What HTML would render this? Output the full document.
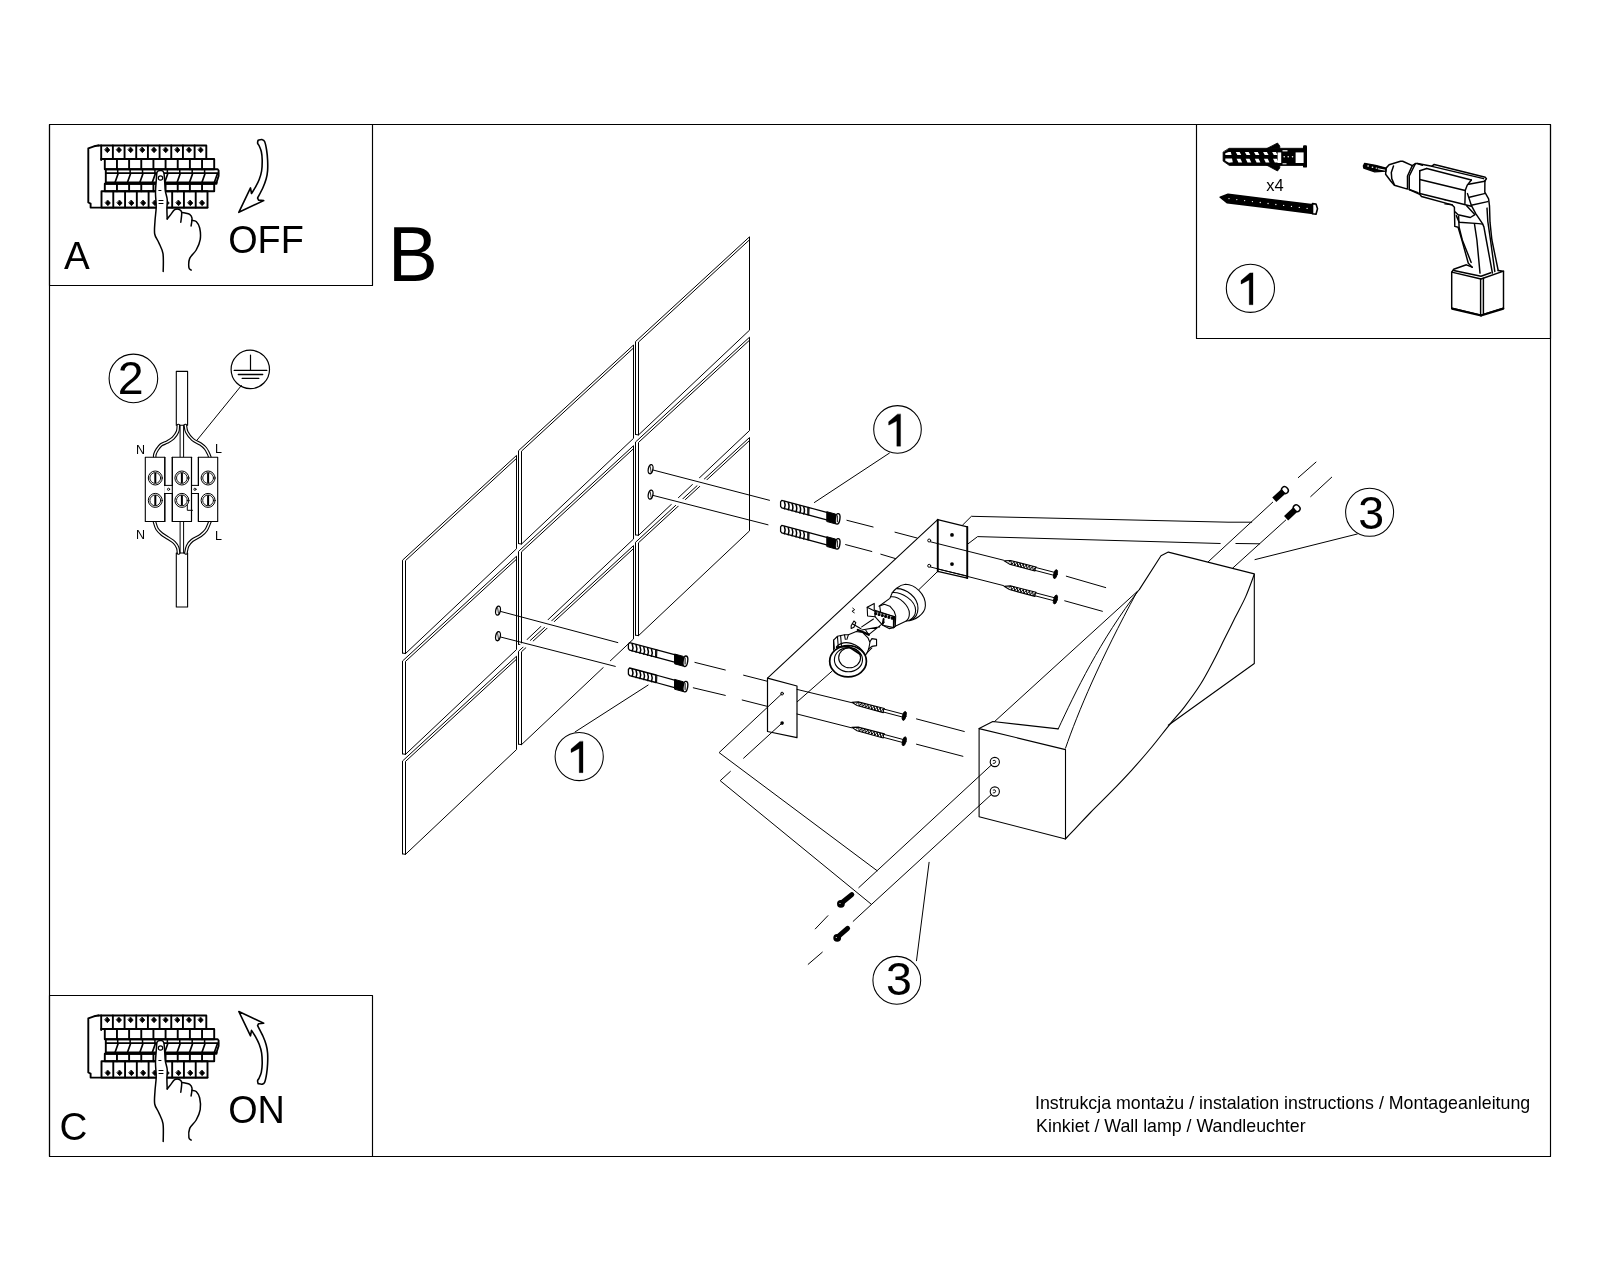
<!DOCTYPE html>
<html><head><meta charset="utf-8"><title>Instrukcja montażu</title>
<style>html,body{margin:0;padding:0;background:#fff;} svg{display:block;will-change:transform;}</style></head>
<body>
<svg width="1600" height="1280" viewBox="0 0 1600 1280" font-family="'Liberation Sans', sans-serif" stroke-linecap="round" stroke-linejoin="round">
<rect width="1600" height="1280" fill="#fff"/>
<rect x="49.5" y="124.5" width="1501" height="1032" fill="none" stroke="#000" stroke-width="1.15"/>
<rect x="49.5" y="124.5" width="323" height="161" fill="none" stroke="#000" stroke-width="1.15"/>
<rect x="49.5" y="995.5" width="323" height="161" fill="none" stroke="#000" stroke-width="1.15"/>
<rect x="1196.5" y="124.5" width="354" height="214" fill="none" stroke="#000" stroke-width="1.15"/>
<polyline points="98.3,145.5 94,146.3 88.3,148.3 88.3,202.5 90.6,203.6 90.6,207.6 207.5,207.6" fill="none" stroke="#000" stroke-width="1.9"/>
<polyline points="101.2,159 206.3,159 206.3,145.5 98.3,145.5" fill="none" stroke="#000" stroke-width="1.9"/>
<line x1="101.2" y1="145.5" x2="101.2" y2="160" stroke="#000" stroke-width="1.9"/>
<line x1="112.88" y1="145.5" x2="112.88" y2="159" stroke="#000" stroke-width="1.9"/>
<line x1="124.56" y1="145.5" x2="124.56" y2="159" stroke="#000" stroke-width="1.9"/>
<line x1="136.23" y1="145.5" x2="136.23" y2="159" stroke="#000" stroke-width="1.9"/>
<line x1="147.91" y1="145.5" x2="147.91" y2="159" stroke="#000" stroke-width="1.9"/>
<line x1="159.59" y1="145.5" x2="159.59" y2="159" stroke="#000" stroke-width="1.9"/>
<line x1="171.27" y1="145.5" x2="171.27" y2="159" stroke="#000" stroke-width="1.9"/>
<line x1="182.94" y1="145.5" x2="182.94" y2="159" stroke="#000" stroke-width="1.9"/>
<line x1="194.62" y1="145.5" x2="194.62" y2="159" stroke="#000" stroke-width="1.9"/>
<polygon points="107.34,147.3 109.84,150 107.34,152.7 104.84,150" fill="#000" stroke="#000" stroke-width="0.8"/>
<polygon points="119.02,147.3 121.52,150 119.02,152.7 116.52,150" fill="#000" stroke="#000" stroke-width="0.8"/>
<polygon points="130.69,147.3 133.19,150 130.69,152.7 128.19,150" fill="#000" stroke="#000" stroke-width="0.8"/>
<polygon points="142.37,147.3 144.87,150 142.37,152.7 139.87,150" fill="#000" stroke="#000" stroke-width="0.8"/>
<polygon points="154.05,147.3 156.55,150 154.05,152.7 151.55,150" fill="#000" stroke="#000" stroke-width="0.8"/>
<polygon points="165.73,147.3 168.23,150 165.73,152.7 163.23,150" fill="#000" stroke="#000" stroke-width="0.8"/>
<polygon points="177.41,147.3 179.91,150 177.41,152.7 174.91,150" fill="#000" stroke="#000" stroke-width="0.8"/>
<polygon points="189.08,147.3 191.58,150 189.08,152.7 186.58,150" fill="#000" stroke="#000" stroke-width="0.8"/>
<polygon points="200.76,147.3 203.26,150 200.76,152.7 198.26,150" fill="#000" stroke="#000" stroke-width="0.8"/>
<polygon points="104.8,159 214.2,159 214.2,169.2 104.8,169.2" fill="none" stroke="#000" stroke-width="1.9"/>
<line x1="116.96" y1="159" x2="116.96" y2="169.2" stroke="#000" stroke-width="1.9"/>
<line x1="129.11" y1="159" x2="129.11" y2="169.2" stroke="#000" stroke-width="1.9"/>
<line x1="141.27" y1="159" x2="141.27" y2="169.2" stroke="#000" stroke-width="1.9"/>
<line x1="153.42" y1="159" x2="153.42" y2="169.2" stroke="#000" stroke-width="1.9"/>
<line x1="165.58" y1="159" x2="165.58" y2="169.2" stroke="#000" stroke-width="1.9"/>
<line x1="177.73" y1="159" x2="177.73" y2="169.2" stroke="#000" stroke-width="1.9"/>
<line x1="189.89" y1="159" x2="189.89" y2="169.2" stroke="#000" stroke-width="1.9"/>
<line x1="202.04" y1="159" x2="202.04" y2="169.2" stroke="#000" stroke-width="1.9"/>
<polygon points="105.8,169.2 217.5,169.2 218.6,170.5 218.6,176 216.5,182.5 216.5,183.7 105.8,183.7" fill="none" stroke="#000" stroke-width="1.9"/>
<line x1="106" y1="173.2" x2="218.4" y2="173.2" stroke="#000" stroke-width="1.71"/>
<line x1="106" y1="182.6" x2="216.5" y2="182.6" stroke="#000" stroke-width="2.28"/>
<line x1="115.01" y1="182.5" x2="118.01" y2="174" stroke="#000" stroke-width="1.71"/>
<line x1="127.42" y1="182.5" x2="130.42" y2="174" stroke="#000" stroke-width="1.71"/>
<line x1="139.83" y1="182.5" x2="142.83" y2="174" stroke="#000" stroke-width="1.71"/>
<line x1="152.24" y1="182.5" x2="155.24" y2="174" stroke="#000" stroke-width="1.71"/>
<line x1="164.66" y1="182.5" x2="167.66" y2="174" stroke="#000" stroke-width="1.71"/>
<line x1="177.07" y1="182.5" x2="180.07" y2="174" stroke="#000" stroke-width="1.71"/>
<line x1="189.48" y1="182.5" x2="192.48" y2="174" stroke="#000" stroke-width="1.71"/>
<line x1="201.89" y1="182.5" x2="204.89" y2="174" stroke="#000" stroke-width="1.71"/>
<line x1="214.3" y1="182.5" x2="217.3" y2="174" stroke="#000" stroke-width="1.71"/>
<line x1="117.71" y1="169.5" x2="117.71" y2="173" stroke="#000" stroke-width="1.52"/>
<line x1="130.12" y1="169.5" x2="130.12" y2="173" stroke="#000" stroke-width="1.52"/>
<line x1="142.53" y1="169.5" x2="142.53" y2="173" stroke="#000" stroke-width="1.52"/>
<line x1="154.94" y1="169.5" x2="154.94" y2="173" stroke="#000" stroke-width="1.52"/>
<line x1="167.36" y1="169.5" x2="167.36" y2="173" stroke="#000" stroke-width="1.52"/>
<line x1="179.77" y1="169.5" x2="179.77" y2="173" stroke="#000" stroke-width="1.52"/>
<line x1="192.18" y1="169.5" x2="192.18" y2="173" stroke="#000" stroke-width="1.52"/>
<line x1="204.59" y1="169.5" x2="204.59" y2="173" stroke="#000" stroke-width="1.52"/>
<polygon points="104.8,183.7 214.2,183.7 214.2,191.2 104.8,191.2" fill="none" stroke="#000" stroke-width="1.9"/>
<line x1="116.96" y1="183.7" x2="116.96" y2="191.2" stroke="#000" stroke-width="1.9"/>
<line x1="129.11" y1="183.7" x2="129.11" y2="191.2" stroke="#000" stroke-width="1.9"/>
<line x1="141.27" y1="183.7" x2="141.27" y2="191.2" stroke="#000" stroke-width="1.9"/>
<line x1="153.42" y1="183.7" x2="153.42" y2="191.2" stroke="#000" stroke-width="1.9"/>
<line x1="165.58" y1="183.7" x2="165.58" y2="191.2" stroke="#000" stroke-width="1.9"/>
<line x1="177.73" y1="183.7" x2="177.73" y2="191.2" stroke="#000" stroke-width="1.9"/>
<line x1="189.89" y1="183.7" x2="189.89" y2="191.2" stroke="#000" stroke-width="1.9"/>
<line x1="202.04" y1="183.7" x2="202.04" y2="191.2" stroke="#000" stroke-width="1.9"/>
<polygon points="101.5,191.2 207.5,191.2 207.5,207.6 101.5,207.6" fill="none" stroke="#000" stroke-width="1.9"/>
<line x1="113.28" y1="191.2" x2="113.28" y2="207.6" stroke="#000" stroke-width="1.9"/>
<line x1="125.06" y1="191.2" x2="125.06" y2="207.6" stroke="#000" stroke-width="1.9"/>
<line x1="136.83" y1="191.2" x2="136.83" y2="207.6" stroke="#000" stroke-width="1.9"/>
<line x1="148.61" y1="191.2" x2="148.61" y2="207.6" stroke="#000" stroke-width="1.9"/>
<line x1="160.39" y1="191.2" x2="160.39" y2="207.6" stroke="#000" stroke-width="1.9"/>
<line x1="172.17" y1="191.2" x2="172.17" y2="207.6" stroke="#000" stroke-width="1.9"/>
<line x1="183.94" y1="191.2" x2="183.94" y2="207.6" stroke="#000" stroke-width="1.9"/>
<line x1="195.72" y1="191.2" x2="195.72" y2="207.6" stroke="#000" stroke-width="1.9"/>
<polygon points="107.89,200.3 110.39,203 107.89,205.7 105.39,203" fill="#000" stroke="#000" stroke-width="0.8"/>
<polygon points="119.67,200.3 122.17,203 119.67,205.7 117.17,203" fill="#000" stroke="#000" stroke-width="0.8"/>
<polygon points="131.44,200.3 133.94,203 131.44,205.7 128.94,203" fill="#000" stroke="#000" stroke-width="0.8"/>
<polygon points="143.22,200.3 145.72,203 143.22,205.7 140.72,203" fill="#000" stroke="#000" stroke-width="0.8"/>
<polygon points="155,200.3 157.5,203 155,205.7 152.5,203" fill="#000" stroke="#000" stroke-width="0.8"/>
<polygon points="166.78,200.3 169.28,203 166.78,205.7 164.28,203" fill="#000" stroke="#000" stroke-width="0.8"/>
<polygon points="178.56,200.3 181.06,203 178.56,205.7 176.06,203" fill="#000" stroke="#000" stroke-width="0.8"/>
<polygon points="190.33,200.3 192.83,203 190.33,205.7 187.83,203" fill="#000" stroke="#000" stroke-width="0.8"/>
<polygon points="202.11,200.3 204.61,203 202.11,205.7 199.61,203" fill="#000" stroke="#000" stroke-width="0.8"/>
<polygon points="157.3,171.7 161.6,170.6 163.9,173.1 164.8,183.4 165.3,190.9 167.2,199.4 166.9,208.7 167.2,219 170.9,214.4 174.7,209.7 179.4,209.5 181.7,212.5 185,213 189.7,214.4 192,218.1 192,220.3 196.2,220.9 199.5,225.6 200.2,239.7 196.2,250 189.7,258.4 188.7,267.8 191.1,270.1 163.2,271.5 163.4,253.7 158.7,242.5 154.5,234 155,221 156.4,206.9 155.5,192.8 156.4,178.7" fill="#fff" stroke="none" stroke-width="0"/>
<path d="M191.1,270.1 C190.73,269.68 189.13,269.55 188.9,267.6 C188.67,265.65 188.48,261.33 189.7,258.4 C190.92,255.47 194.45,253.12 196.2,250 C197.95,246.88 199.62,243.37 200.2,239.7 C200.78,236.03 200.37,231.03 199.7,228 C199.03,224.97 197.48,222.78 196.2,221.5 C194.92,220.22 192.7,220.5 192,220.3" fill="none" stroke="#000" stroke-width="1.5"/>
<path d="M191.1,226 C191.25,224.68 192.23,220.03 192,218.1 C191.77,216.17 190.87,215.25 189.7,214.4 C188.53,213.55 186.33,213.32 185,213 C183.67,212.68 182.25,212.58 181.7,212.5" fill="none" stroke="#000" stroke-width="1.5"/>
<path d="M180.8,222.3 C180.95,220.67 181.93,214.63 181.7,212.5 C181.47,210.37 180.57,209.97 179.4,209.5 C178.23,209.03 176.12,208.88 174.7,209.7 C173.28,210.52 172.15,212.85 170.9,214.4 C169.65,215.95 167.82,218.23 167.2,219" fill="none" stroke="#000" stroke-width="1.5"/>
<path d="M167.2,219 C167.15,217.28 166.9,211.97 166.9,208.7 C166.9,205.43 167.47,202.37 167.2,199.4 C166.93,196.43 165.7,193.57 165.3,190.9 C164.9,188.23 165.03,186.37 164.8,183.4 C164.57,180.43 164.43,175.23 163.9,173.1 C163.37,170.97 162.7,170.83 161.6,170.6 C160.5,170.37 158.17,170.35 157.3,171.7 C156.43,173.05 156.7,175.18 156.4,178.7 C156.1,182.22 155.53,188.1 155.5,192.8 C155.47,197.5 156.28,202.2 156.2,206.9 C156.12,211.6 155.25,216.48 155,221 C154.75,225.52 154.08,230.42 154.7,234 C155.32,237.58 157.32,239.22 158.7,242.5 C160.08,245.78 162.25,248.87 163,253.7 C163.75,258.53 163.17,268.53 163.2,271.5" fill="none" stroke="#000" stroke-width="1.5"/>
<line x1="159" y1="200.5" x2="163" y2="200.5" stroke="#000" stroke-width="1.1"/>
<line x1="159" y1="203.5" x2="163" y2="203.5" stroke="#000" stroke-width="1.1"/>
<line x1="158.8" y1="190.5" x2="161" y2="190.5" stroke="#000" stroke-width="1"/>
<circle cx="160.5" cy="178" r="2.2" fill="none" stroke="#000" stroke-width="1.2"/>
<polyline points="98.3,1015.5 94,1016.3 88.3,1018.3 88.3,1072.5 90.6,1073.6 90.6,1077.6 207.5,1077.6" fill="none" stroke="#000" stroke-width="1.9"/>
<polyline points="101.2,1029 206.3,1029 206.3,1015.5 98.3,1015.5" fill="none" stroke="#000" stroke-width="1.9"/>
<line x1="101.2" y1="1015.5" x2="101.2" y2="1030" stroke="#000" stroke-width="1.9"/>
<line x1="112.88" y1="1015.5" x2="112.88" y2="1029" stroke="#000" stroke-width="1.9"/>
<line x1="124.56" y1="1015.5" x2="124.56" y2="1029" stroke="#000" stroke-width="1.9"/>
<line x1="136.23" y1="1015.5" x2="136.23" y2="1029" stroke="#000" stroke-width="1.9"/>
<line x1="147.91" y1="1015.5" x2="147.91" y2="1029" stroke="#000" stroke-width="1.9"/>
<line x1="159.59" y1="1015.5" x2="159.59" y2="1029" stroke="#000" stroke-width="1.9"/>
<line x1="171.27" y1="1015.5" x2="171.27" y2="1029" stroke="#000" stroke-width="1.9"/>
<line x1="182.94" y1="1015.5" x2="182.94" y2="1029" stroke="#000" stroke-width="1.9"/>
<line x1="194.62" y1="1015.5" x2="194.62" y2="1029" stroke="#000" stroke-width="1.9"/>
<polygon points="107.34,1017.3 109.84,1020 107.34,1022.7 104.84,1020" fill="#000" stroke="#000" stroke-width="0.8"/>
<polygon points="119.02,1017.3 121.52,1020 119.02,1022.7 116.52,1020" fill="#000" stroke="#000" stroke-width="0.8"/>
<polygon points="130.69,1017.3 133.19,1020 130.69,1022.7 128.19,1020" fill="#000" stroke="#000" stroke-width="0.8"/>
<polygon points="142.37,1017.3 144.87,1020 142.37,1022.7 139.87,1020" fill="#000" stroke="#000" stroke-width="0.8"/>
<polygon points="154.05,1017.3 156.55,1020 154.05,1022.7 151.55,1020" fill="#000" stroke="#000" stroke-width="0.8"/>
<polygon points="165.73,1017.3 168.23,1020 165.73,1022.7 163.23,1020" fill="#000" stroke="#000" stroke-width="0.8"/>
<polygon points="177.41,1017.3 179.91,1020 177.41,1022.7 174.91,1020" fill="#000" stroke="#000" stroke-width="0.8"/>
<polygon points="189.08,1017.3 191.58,1020 189.08,1022.7 186.58,1020" fill="#000" stroke="#000" stroke-width="0.8"/>
<polygon points="200.76,1017.3 203.26,1020 200.76,1022.7 198.26,1020" fill="#000" stroke="#000" stroke-width="0.8"/>
<polygon points="104.8,1029 214.2,1029 214.2,1039.2 104.8,1039.2" fill="none" stroke="#000" stroke-width="1.9"/>
<line x1="116.96" y1="1029" x2="116.96" y2="1039.2" stroke="#000" stroke-width="1.9"/>
<line x1="129.11" y1="1029" x2="129.11" y2="1039.2" stroke="#000" stroke-width="1.9"/>
<line x1="141.27" y1="1029" x2="141.27" y2="1039.2" stroke="#000" stroke-width="1.9"/>
<line x1="153.42" y1="1029" x2="153.42" y2="1039.2" stroke="#000" stroke-width="1.9"/>
<line x1="165.58" y1="1029" x2="165.58" y2="1039.2" stroke="#000" stroke-width="1.9"/>
<line x1="177.73" y1="1029" x2="177.73" y2="1039.2" stroke="#000" stroke-width="1.9"/>
<line x1="189.89" y1="1029" x2="189.89" y2="1039.2" stroke="#000" stroke-width="1.9"/>
<line x1="202.04" y1="1029" x2="202.04" y2="1039.2" stroke="#000" stroke-width="1.9"/>
<polygon points="105.8,1039.2 217.5,1039.2 218.6,1040.5 218.6,1046 216.5,1052.5 216.5,1053.7 105.8,1053.7" fill="none" stroke="#000" stroke-width="1.9"/>
<line x1="106" y1="1043.2" x2="218.4" y2="1043.2" stroke="#000" stroke-width="1.71"/>
<line x1="106" y1="1052.6" x2="216.5" y2="1052.6" stroke="#000" stroke-width="2.28"/>
<line x1="115.01" y1="1052.5" x2="118.01" y2="1044" stroke="#000" stroke-width="1.71"/>
<line x1="127.42" y1="1052.5" x2="130.42" y2="1044" stroke="#000" stroke-width="1.71"/>
<line x1="139.83" y1="1052.5" x2="142.83" y2="1044" stroke="#000" stroke-width="1.71"/>
<line x1="152.24" y1="1052.5" x2="155.24" y2="1044" stroke="#000" stroke-width="1.71"/>
<line x1="164.66" y1="1052.5" x2="167.66" y2="1044" stroke="#000" stroke-width="1.71"/>
<line x1="177.07" y1="1052.5" x2="180.07" y2="1044" stroke="#000" stroke-width="1.71"/>
<line x1="189.48" y1="1052.5" x2="192.48" y2="1044" stroke="#000" stroke-width="1.71"/>
<line x1="201.89" y1="1052.5" x2="204.89" y2="1044" stroke="#000" stroke-width="1.71"/>
<line x1="214.3" y1="1052.5" x2="217.3" y2="1044" stroke="#000" stroke-width="1.71"/>
<line x1="117.71" y1="1039.5" x2="117.71" y2="1043" stroke="#000" stroke-width="1.52"/>
<line x1="130.12" y1="1039.5" x2="130.12" y2="1043" stroke="#000" stroke-width="1.52"/>
<line x1="142.53" y1="1039.5" x2="142.53" y2="1043" stroke="#000" stroke-width="1.52"/>
<line x1="154.94" y1="1039.5" x2="154.94" y2="1043" stroke="#000" stroke-width="1.52"/>
<line x1="167.36" y1="1039.5" x2="167.36" y2="1043" stroke="#000" stroke-width="1.52"/>
<line x1="179.77" y1="1039.5" x2="179.77" y2="1043" stroke="#000" stroke-width="1.52"/>
<line x1="192.18" y1="1039.5" x2="192.18" y2="1043" stroke="#000" stroke-width="1.52"/>
<line x1="204.59" y1="1039.5" x2="204.59" y2="1043" stroke="#000" stroke-width="1.52"/>
<polygon points="104.8,1053.7 214.2,1053.7 214.2,1061.2 104.8,1061.2" fill="none" stroke="#000" stroke-width="1.9"/>
<line x1="116.96" y1="1053.7" x2="116.96" y2="1061.2" stroke="#000" stroke-width="1.9"/>
<line x1="129.11" y1="1053.7" x2="129.11" y2="1061.2" stroke="#000" stroke-width="1.9"/>
<line x1="141.27" y1="1053.7" x2="141.27" y2="1061.2" stroke="#000" stroke-width="1.9"/>
<line x1="153.42" y1="1053.7" x2="153.42" y2="1061.2" stroke="#000" stroke-width="1.9"/>
<line x1="165.58" y1="1053.7" x2="165.58" y2="1061.2" stroke="#000" stroke-width="1.9"/>
<line x1="177.73" y1="1053.7" x2="177.73" y2="1061.2" stroke="#000" stroke-width="1.9"/>
<line x1="189.89" y1="1053.7" x2="189.89" y2="1061.2" stroke="#000" stroke-width="1.9"/>
<line x1="202.04" y1="1053.7" x2="202.04" y2="1061.2" stroke="#000" stroke-width="1.9"/>
<polygon points="101.5,1061.2 207.5,1061.2 207.5,1077.6 101.5,1077.6" fill="none" stroke="#000" stroke-width="1.9"/>
<line x1="113.28" y1="1061.2" x2="113.28" y2="1077.6" stroke="#000" stroke-width="1.9"/>
<line x1="125.06" y1="1061.2" x2="125.06" y2="1077.6" stroke="#000" stroke-width="1.9"/>
<line x1="136.83" y1="1061.2" x2="136.83" y2="1077.6" stroke="#000" stroke-width="1.9"/>
<line x1="148.61" y1="1061.2" x2="148.61" y2="1077.6" stroke="#000" stroke-width="1.9"/>
<line x1="160.39" y1="1061.2" x2="160.39" y2="1077.6" stroke="#000" stroke-width="1.9"/>
<line x1="172.17" y1="1061.2" x2="172.17" y2="1077.6" stroke="#000" stroke-width="1.9"/>
<line x1="183.94" y1="1061.2" x2="183.94" y2="1077.6" stroke="#000" stroke-width="1.9"/>
<line x1="195.72" y1="1061.2" x2="195.72" y2="1077.6" stroke="#000" stroke-width="1.9"/>
<polygon points="107.89,1070.3 110.39,1073 107.89,1075.7 105.39,1073" fill="#000" stroke="#000" stroke-width="0.8"/>
<polygon points="119.67,1070.3 122.17,1073 119.67,1075.7 117.17,1073" fill="#000" stroke="#000" stroke-width="0.8"/>
<polygon points="131.44,1070.3 133.94,1073 131.44,1075.7 128.94,1073" fill="#000" stroke="#000" stroke-width="0.8"/>
<polygon points="143.22,1070.3 145.72,1073 143.22,1075.7 140.72,1073" fill="#000" stroke="#000" stroke-width="0.8"/>
<polygon points="155,1070.3 157.5,1073 155,1075.7 152.5,1073" fill="#000" stroke="#000" stroke-width="0.8"/>
<polygon points="166.78,1070.3 169.28,1073 166.78,1075.7 164.28,1073" fill="#000" stroke="#000" stroke-width="0.8"/>
<polygon points="178.56,1070.3 181.06,1073 178.56,1075.7 176.06,1073" fill="#000" stroke="#000" stroke-width="0.8"/>
<polygon points="190.33,1070.3 192.83,1073 190.33,1075.7 187.83,1073" fill="#000" stroke="#000" stroke-width="0.8"/>
<polygon points="202.11,1070.3 204.61,1073 202.11,1075.7 199.61,1073" fill="#000" stroke="#000" stroke-width="0.8"/>
<polygon points="157.3,1041.7 161.6,1040.6 163.9,1043.1 164.8,1053.4 165.3,1060.9 167.2,1069.4 166.9,1078.7 167.2,1089 170.9,1084.4 174.7,1079.7 179.4,1079.5 181.7,1082.5 185,1083 189.7,1084.4 192,1088.1 192,1090.3 196.2,1090.9 199.5,1095.6 200.2,1109.7 196.2,1120 189.7,1128.4 188.7,1137.8 191.1,1140.1 163.2,1141.5 163.4,1123.7 158.7,1112.5 154.5,1104 155,1091 156.4,1076.9 155.5,1062.8 156.4,1048.7" fill="#fff" stroke="none" stroke-width="0"/>
<path d="M191.1,1140.1 C190.73,1139.68 189.13,1139.55 188.9,1137.6 C188.67,1135.65 188.48,1131.33 189.7,1128.4 C190.92,1125.47 194.45,1123.12 196.2,1120 C197.95,1116.88 199.62,1113.37 200.2,1109.7 C200.78,1106.03 200.37,1101.03 199.7,1098 C199.03,1094.97 197.48,1092.78 196.2,1091.5 C194.92,1090.22 192.7,1090.5 192,1090.3" fill="none" stroke="#000" stroke-width="1.5"/>
<path d="M191.1,1096 C191.25,1094.68 192.23,1090.03 192,1088.1 C191.77,1086.17 190.87,1085.25 189.7,1084.4 C188.53,1083.55 186.33,1083.32 185,1083 C183.67,1082.68 182.25,1082.58 181.7,1082.5" fill="none" stroke="#000" stroke-width="1.5"/>
<path d="M180.8,1092.3 C180.95,1090.67 181.93,1084.63 181.7,1082.5 C181.47,1080.37 180.57,1079.97 179.4,1079.5 C178.23,1079.03 176.12,1078.88 174.7,1079.7 C173.28,1080.52 172.15,1082.85 170.9,1084.4 C169.65,1085.95 167.82,1088.23 167.2,1089" fill="none" stroke="#000" stroke-width="1.5"/>
<path d="M167.2,1089 C167.15,1087.28 166.9,1081.97 166.9,1078.7 C166.9,1075.43 167.47,1072.37 167.2,1069.4 C166.93,1066.43 165.7,1063.57 165.3,1060.9 C164.9,1058.23 165.03,1056.37 164.8,1053.4 C164.57,1050.43 164.43,1045.23 163.9,1043.1 C163.37,1040.97 162.7,1040.83 161.6,1040.6 C160.5,1040.37 158.17,1040.35 157.3,1041.7 C156.43,1043.05 156.7,1045.18 156.4,1048.7 C156.1,1052.22 155.53,1058.1 155.5,1062.8 C155.47,1067.5 156.28,1072.2 156.2,1076.9 C156.12,1081.6 155.25,1086.48 155,1091 C154.75,1095.52 154.08,1100.42 154.7,1104 C155.32,1107.58 157.32,1109.22 158.7,1112.5 C160.08,1115.78 162.25,1118.87 163,1123.7 C163.75,1128.53 163.17,1138.53 163.2,1141.5" fill="none" stroke="#000" stroke-width="1.5"/>
<line x1="159" y1="1070.5" x2="163" y2="1070.5" stroke="#000" stroke-width="1.1"/>
<line x1="159" y1="1073.5" x2="163" y2="1073.5" stroke="#000" stroke-width="1.1"/>
<line x1="158.8" y1="1060.5" x2="161" y2="1060.5" stroke="#000" stroke-width="1"/>
<circle cx="160.5" cy="1048" r="2.2" fill="none" stroke="#000" stroke-width="1.2"/>
<path d="M258.1,140.2 C258.75,140.1 260.92,139.38 262,139.6 C263.08,139.82 263.83,139.77 264.6,141.5 C265.37,143.23 266.1,146.92 266.6,150 C267.1,153.08 267.43,156.57 267.6,160 C267.77,163.43 267.83,167.47 267.6,170.6 C267.37,173.73 266.97,175.98 266.2,178.8 C265.43,181.62 264.43,184.28 263,187.5 C261.57,190.72 258.5,196.33 257.6,198.1 L258.6,200.1 L263.7,200.6 L238.8,212.3 L250.5,187.9 L251.5,193.5  C252.18,192.4 254.32,189.23 255.6,186.9 C256.88,184.57 258.2,182.15 259.2,179.5 C260.2,176.85 261.1,174.25 261.6,171 C262.1,167.75 262.25,163.25 262.2,160 C262.15,156.75 261.83,153.92 261.3,151.5 C260.77,149.08 259.62,146.88 259,145.5 C258.38,144.12 257.75,144.08 257.6,143.2 C257.45,142.32 258.02,140.7 258.1,140.2Z" fill="none" stroke="#000" stroke-width="1.6"/>
<path d="M258.1,1083.6 C258.75,1083.7 260.92,1084.42 262,1084.2 C263.08,1083.98 263.83,1084.03 264.6,1082.3 C265.37,1080.57 266.1,1076.88 266.6,1073.8 C267.1,1070.72 267.43,1067.23 267.6,1063.8 C267.77,1060.37 267.83,1056.33 267.6,1053.2 C267.37,1050.07 266.97,1047.82 266.2,1045 C265.43,1042.18 264.43,1039.52 263,1036.3 C261.57,1033.08 258.5,1027.47 257.6,1025.7 L258.6,1023.7 L263.7,1023.2 L238.8,1011.5 L250.5,1035.9 L251.5,1030.3  C252.18,1031.4 254.32,1034.57 255.6,1036.9 C256.88,1039.23 258.2,1041.65 259.2,1044.3 C260.2,1046.95 261.1,1049.55 261.6,1052.8 C262.1,1056.05 262.25,1060.55 262.2,1063.8 C262.15,1067.05 261.83,1069.88 261.3,1072.3 C260.77,1074.72 259.62,1076.92 259,1078.3 C258.38,1079.68 257.75,1079.72 257.6,1080.6 C257.45,1081.48 258.02,1083.1 258.1,1083.6Z" fill="none" stroke="#000" stroke-width="1.6"/>
<text x="63.9" y="269.3" font-size="38.6" text-anchor="start">A</text>
<g transform="translate(0,253) scale(1,1.04) translate(0,-253)">
<text x="228.2" y="253" font-size="37.8" text-anchor="start">OFF</text>
</g>
<text x="59.5" y="1140" font-size="38.6" text-anchor="start">C</text>
<g transform="translate(0,1123) scale(1,1.03) translate(0,-1123)">
<text x="228.2" y="1123" font-size="37.8" text-anchor="start">ON</text>
</g>
<circle cx="133.4" cy="378.4" r="24.3" fill="none" stroke="#000" stroke-width="1.1"/>
<text x="117.7" y="394.3" font-size="46.5" text-anchor="start">2</text>
<circle cx="250.3" cy="369.4" r="19.2" fill="none" stroke="#000" stroke-width="1.2"/>
<line x1="250.5" y1="355" x2="250.5" y2="370.4" stroke="#000" stroke-width="1.2"/>
<line x1="234.2" y1="370.4" x2="266.8" y2="370.4" stroke="#000" stroke-width="1.3"/>
<line x1="238.3" y1="374.5" x2="262.7" y2="374.5" stroke="#000" stroke-width="1.3"/>
<line x1="242.2" y1="378.4" x2="258.8" y2="378.4" stroke="#000" stroke-width="1.3"/>
<line x1="241.4" y1="385.5" x2="196.9" y2="440.3" stroke="#000" stroke-width="1"/>
<rect x="176.3" y="371.4" width="11.3" height="53.8" fill="none" stroke="#000" stroke-width="1.1"/>
<rect x="176.3" y="553" width="11.3" height="54" fill="none" stroke="#000" stroke-width="1.1"/>
<line x1="180.1" y1="425.2" x2="180.1" y2="457.2" stroke="#000" stroke-width="1"/>
<line x1="180.1" y1="521.5" x2="180.1" y2="553" stroke="#000" stroke-width="1"/>
<line x1="183.6" y1="425.2" x2="183.6" y2="457.2" stroke="#000" stroke-width="1"/>
<line x1="183.6" y1="521.5" x2="183.6" y2="553" stroke="#000" stroke-width="1"/>
<path d="M178.3,425.5 C178.18,426.5 178.45,429.42 177.6,431.5 C176.75,433.58 174.92,436.25 173.2,438 C171.48,439.75 169.3,440.87 167.3,442 C165.3,443.13 162.88,443.53 161.2,444.8 C159.52,446.07 158.25,448 157.2,449.6 C156.15,451.2 155.32,453.07 154.9,454.4 C154.48,455.73 154.73,457.07 154.7,457.6" fill="none" stroke="#000" stroke-width="3.6"/>
<path d="M178.3,425.5 C178.18,426.5 178.45,429.42 177.6,431.5 C176.75,433.58 174.92,436.25 173.2,438 C171.48,439.75 169.3,440.87 167.3,442 C165.3,443.13 162.88,443.53 161.2,444.8 C159.52,446.07 158.25,448 157.2,449.6 C156.15,451.2 155.32,453.07 154.9,454.4 C154.48,455.73 154.73,457.07 154.7,457.6" fill="none" stroke="#fff" stroke-width="1.4"/>
<path d="M185.4,425.5 C185.63,426.58 185.6,429.67 186.8,432 C188,434.33 190.32,437.5 192.6,439.5 C194.88,441.5 198.37,442.53 200.5,444 C202.63,445.47 204.1,446.75 205.4,448.3 C206.7,449.85 207.53,451.75 208.3,453.3 C209.07,454.85 209.72,456.88 210,457.6" fill="none" stroke="#000" stroke-width="3.6"/>
<path d="M185.4,425.5 C185.63,426.58 185.6,429.67 186.8,432 C188,434.33 190.32,437.5 192.6,439.5 C194.88,441.5 198.37,442.53 200.5,444 C202.63,445.47 204.1,446.75 205.4,448.3 C206.7,449.85 207.53,451.75 208.3,453.3 C209.07,454.85 209.72,456.88 210,457.6" fill="none" stroke="#fff" stroke-width="1.4"/>
<path d="M154.3,521.2 C154.75,522.48 155.75,526.77 157,528.9 C158.25,531.03 159.93,532.45 161.8,534 C163.67,535.55 166.12,536.78 168.2,538.2 C170.28,539.62 172.72,540.91 174.3,542.5 C175.88,544.09 177,546 177.7,547.75 C178.4,549.5 178.37,552.12 178.5,553" fill="none" stroke="#000" stroke-width="3.6"/>
<path d="M154.3,521.2 C154.75,522.48 155.75,526.77 157,528.9 C158.25,531.03 159.93,532.45 161.8,534 C163.67,535.55 166.12,536.78 168.2,538.2 C170.28,539.62 172.72,540.91 174.3,542.5 C175.88,544.09 177,546 177.7,547.75 C178.4,549.5 178.37,552.12 178.5,553" fill="none" stroke="#fff" stroke-width="1.4"/>
<path d="M210.1,521.2 C209.45,522.67 207.78,527.62 206.2,530 C204.62,532.38 202.97,533.75 200.6,535.5 C198.23,537.25 194.17,538.75 192,540.5 C189.83,542.25 188.62,543.92 187.6,546 C186.58,548.08 186.18,551.83 185.9,553" fill="none" stroke="#000" stroke-width="3.6"/>
<path d="M210.1,521.2 C209.45,522.67 207.78,527.62 206.2,530 C204.62,532.38 202.97,533.75 200.6,535.5 C198.23,537.25 194.17,538.75 192,540.5 C189.83,542.25 188.62,543.92 187.6,546 C186.58,548.08 186.18,551.83 185.9,553" fill="none" stroke="#fff" stroke-width="1.4"/>
<rect x="145.3" y="457.2" width="19.5" height="64.3" fill="#fff" stroke="#000" stroke-width="1.1"/>
<rect x="172.3" y="457.2" width="19.2" height="64.3" fill="#fff" stroke="#000" stroke-width="1.1"/>
<rect x="198.4" y="457.2" width="19.3" height="64.3" fill="#fff" stroke="#000" stroke-width="1.1"/>
<rect x="164.20000000000002" y="485.9" width="8.7" height="7.1" fill="#fff" stroke="none"/>
<line x1="164.8" y1="485.4" x2="172.3" y2="485.4" stroke="#000" stroke-width="1"/>
<line x1="164.8" y1="493.5" x2="172.3" y2="493.5" stroke="#000" stroke-width="1"/>
<circle cx="168.55" cy="489.3" r="1.1" fill="none" stroke="#000" stroke-width="0.9"/>
<rect x="190.9" y="485.9" width="8.1" height="7.1" fill="#fff" stroke="none"/>
<line x1="191.5" y1="485.4" x2="198.4" y2="485.4" stroke="#000" stroke-width="1"/>
<line x1="191.5" y1="493.5" x2="198.4" y2="493.5" stroke="#000" stroke-width="1"/>
<circle cx="194.95" cy="489.3" r="1.1" fill="none" stroke="#000" stroke-width="0.9"/>
<line x1="164.8" y1="457.2" x2="164.8" y2="485.4" stroke="#000" stroke-width="1.1"/>
<line x1="164.8" y1="493.5" x2="164.8" y2="521.5" stroke="#000" stroke-width="1.1"/>
<line x1="172.3" y1="457.2" x2="172.3" y2="521.5" stroke="#000" stroke-width="1.1"/>
<line x1="191.5" y1="457.2" x2="191.5" y2="521.5" stroke="#000" stroke-width="1.1"/>
<line x1="198.4" y1="457.2" x2="198.4" y2="485.4" stroke="#000" stroke-width="1.1"/>
<line x1="198.4" y1="493.5" x2="198.4" y2="521.5" stroke="#000" stroke-width="1.1"/>
<circle cx="155.3" cy="478" r="7" fill="none" stroke="#000" stroke-width="1"/>
<circle cx="155.3" cy="478" r="5.4" fill="none" stroke="#000" stroke-width="0.9"/>
<line x1="155.3" y1="473.7" x2="155.3" y2="482.3" stroke="#000" stroke-width="2"/>
<circle cx="155.3" cy="500.4" r="7" fill="none" stroke="#000" stroke-width="1"/>
<circle cx="155.3" cy="500.4" r="5.4" fill="none" stroke="#000" stroke-width="0.9"/>
<line x1="155.3" y1="496.1" x2="155.3" y2="504.7" stroke="#000" stroke-width="2"/>
<circle cx="181.9" cy="478" r="7" fill="none" stroke="#000" stroke-width="1"/>
<circle cx="181.9" cy="478" r="5.4" fill="none" stroke="#000" stroke-width="0.9"/>
<line x1="181.9" y1="473.7" x2="181.9" y2="482.3" stroke="#000" stroke-width="2"/>
<circle cx="181.9" cy="500.4" r="7" fill="none" stroke="#000" stroke-width="1"/>
<circle cx="181.9" cy="500.4" r="5.4" fill="none" stroke="#000" stroke-width="0.9"/>
<line x1="181.9" y1="496.1" x2="181.9" y2="504.7" stroke="#000" stroke-width="2"/>
<circle cx="208.1" cy="478" r="7" fill="none" stroke="#000" stroke-width="1"/>
<circle cx="208.1" cy="478" r="5.4" fill="none" stroke="#000" stroke-width="0.9"/>
<line x1="208.1" y1="473.7" x2="208.1" y2="482.3" stroke="#000" stroke-width="2"/>
<circle cx="208.1" cy="500.4" r="7" fill="none" stroke="#000" stroke-width="1"/>
<circle cx="208.1" cy="500.4" r="5.4" fill="none" stroke="#000" stroke-width="0.9"/>
<line x1="208.1" y1="496.1" x2="208.1" y2="504.7" stroke="#000" stroke-width="2"/>
<polyline points="187.3,505 187.3,510.3 192.5,510.3" fill="none" stroke="#000" stroke-width="1"/>
<text x="136" y="453.7" font-size="12.5" text-anchor="start">N</text>
<text x="215" y="453" font-size="12.5" text-anchor="start">L</text>
<text x="136" y="538.7" font-size="12.5" text-anchor="start">N</text>
<text x="215" y="540" font-size="12.5" text-anchor="start">L</text>
<g transform="translate(394,0) scale(0.97,1) translate(-394,0)">
<text x="387.8" y="281.2" font-size="77" text-anchor="start">B</text>
</g>
<text x="1035" y="1108.9" font-size="17.8" text-anchor="start">Instrukcja montażu / instalation instructions / Montageanleitung</text>
<text x="1036.1" y="1131.8" font-size="17.8" text-anchor="start">Kinkiet / Wall lamp / Wandleuchter</text>
<circle cx="1250.4" cy="288.3" r="24.1" fill="none" stroke="#000" stroke-width="1.1"/>
<polygon points="1253,273 1253,304.75 1249.2,304.75 1249.2,279.9 1241.5,283.9 1241,283.9 1241,280.6 1249.8,273" fill="#000" stroke="#000" stroke-width="0.3"/>
<polygon points="1229.4,148.3 1305,148.3 1305,165.5 1229.4,165.5 1223.1,161.1 1223.1,152.4" fill="#000" stroke="#000" stroke-width="0.8"/>
<polygon points="1266.9,148.5 1277.5,143 1279.8,146 1279.8,148.5" fill="#000" stroke="#000" stroke-width="0.8"/>
<polygon points="1266.9,165.3 1277.5,171 1279.8,168 1279.8,165.3" fill="#000" stroke="#000" stroke-width="0.8"/>
<rect x="1303" y="145.3" width="4" height="22.3" rx="1.2" fill="#000"/>
<polygon points="1225.3,153.2 1228.6,152 1230.8,152 1231.6,155 1225.3,155" fill="#fff" stroke="none" stroke-width="0"/>
<polygon points="1225.3,158.6 1232,158.6 1232.8,162.2 1229,162.8 1225.3,160.8" fill="#fff" stroke="none" stroke-width="0"/>
<polygon points="1235.8,152.1 1239.6,152.1 1241.2,155 1237.4,155" fill="#fff" stroke="none" stroke-width="0"/>
<polygon points="1236.6,158.7 1240.4,158.7 1242.2,162.5 1238.4,162.5" fill="#fff" stroke="none" stroke-width="0"/>
<polygon points="1244.9,152.1 1248.7,152.1 1250.3,155 1246.5,155" fill="#fff" stroke="none" stroke-width="0"/>
<polygon points="1245.7,158.7 1249.5,158.7 1251.3,162.5 1247.5,162.5" fill="#fff" stroke="none" stroke-width="0"/>
<polygon points="1254,152.1 1257.8,152.1 1259.4,155 1255.6,155" fill="#fff" stroke="none" stroke-width="0"/>
<polygon points="1254.8,158.7 1258.6,158.7 1260.4,162.5 1256.6,162.5" fill="#fff" stroke="none" stroke-width="0"/>
<polygon points="1263.1,152.1 1266.9,152.1 1268.5,155 1264.7,155" fill="#fff" stroke="none" stroke-width="0"/>
<polygon points="1263.9,158.7 1267.7,158.7 1269.5,162.5 1265.7,162.5" fill="#fff" stroke="none" stroke-width="0"/>
<polygon points="1272.2,152.1 1276,152.1 1277.6,155 1273.8,155" fill="#fff" stroke="none" stroke-width="0"/>
<polygon points="1273,158.7 1276.8,158.7 1278.6,162.5 1274.8,162.5" fill="#fff" stroke="none" stroke-width="0"/>
<rect x="1277.6" y="152.4" width="3.6" height="10.6" fill="#fff"/>
<rect x="1295.6" y="152.4" width="8" height="10.6" fill="#fff"/>
<rect x="1282.5" y="150.2" width="5" height="1.2" fill="#fff"/>
<rect x="1282.5" y="163.3" width="4" height="1.0" fill="#fff"/>
<circle cx="1284.2" cy="156.8" r="0.75" fill="#fff" stroke="none" stroke-width="0"/>
<circle cx="1288.2" cy="156.8" r="0.75" fill="#fff" stroke="none" stroke-width="0"/>
<circle cx="1292.5" cy="156.8" r="0.75" fill="#fff" stroke="none" stroke-width="0"/>
<text x="1266.3" y="191.2" font-size="16.5" text-anchor="start">x4</text>
<polygon points="1220.2,197.2 1228,194.3 1313,204.8 1313,213.4 1227,202.6" fill="#000" stroke="#000" stroke-width="1.6"/>
<circle cx="1229" cy="198.6" r="0.65" fill="#fff" stroke="none" stroke-width="0"/>
<circle cx="1236.81" cy="199.58" r="0.65" fill="#fff" stroke="none" stroke-width="0"/>
<circle cx="1244.62" cy="200.56" r="0.65" fill="#fff" stroke="none" stroke-width="0"/>
<circle cx="1252.43" cy="201.54" r="0.65" fill="#fff" stroke="none" stroke-width="0"/>
<circle cx="1260.24" cy="202.52" r="0.65" fill="#fff" stroke="none" stroke-width="0"/>
<circle cx="1268.05" cy="203.5" r="0.65" fill="#fff" stroke="none" stroke-width="0"/>
<circle cx="1275.86" cy="204.49" r="0.65" fill="#fff" stroke="none" stroke-width="0"/>
<circle cx="1283.67" cy="205.47" r="0.65" fill="#fff" stroke="none" stroke-width="0"/>
<circle cx="1291.48" cy="206.45" r="0.65" fill="#fff" stroke="none" stroke-width="0"/>
<circle cx="1299.29" cy="207.43" r="0.65" fill="#fff" stroke="none" stroke-width="0"/>
<circle cx="1307.1" cy="208.41" r="0.65" fill="#fff" stroke="none" stroke-width="0"/>
<polygon points="1312.5,203.6 1316,204 1317.5,208.8 1316,214.2 1312.5,213.8" fill="#fff" stroke="#000" stroke-width="1.6"/>
<g transform="translate(1355,155) scale(0.08749)">
<polyline points="95,125 110,95 235,118 355,150 355,185 225,192 100,150 95,125" fill="#000" stroke="#000" stroke-width="14"/>
<ellipse cx="150" cy="125" rx="10" ry="8" fill="#fff"/>
<ellipse cx="200" cy="140" rx="10" ry="8" fill="#fff"/>
<ellipse cx="245" cy="150" rx="10" ry="8" fill="#fff"/>
<rect x="262" y="152" width="90" height="12" fill="#fff" transform="rotate(10 262 152)"/>
<polyline points="355,150 390,112 520,72 545,72 655,122 600,240 600,390 450,345 410,300 350,220 355,150" fill="none" stroke="#000" stroke-width="17"/>
<polyline points="440,125 415,200 420,270 450,340" fill="none" stroke="#000" stroke-width="17"/>
<polyline points="655,122 690,98 715,98 770,118" fill="none" stroke="#000" stroke-width="17"/>
<polyline points="690,100 620,240 620,395 720,430" fill="none" stroke="#000" stroke-width="17"/>
<polyline points="715,98 880,128 905,108 1490,255 1502,272 1482,300" fill="none" stroke="#000" stroke-width="17"/>
<polyline points="880,130 1470,270" fill="none" stroke="#000" stroke-width="17"/>
<polyline points="820,155 1330,285" fill="none" stroke="#000" stroke-width="17"/>
<polyline points="740,180 820,155" fill="none" stroke="#000" stroke-width="17"/>
<polyline points="740,180 740,450" fill="none" stroke="#000" stroke-width="17"/>
<polyline points="740,280 1260,405" fill="none" stroke="#000" stroke-width="17"/>
<polyline points="620,395 740,450 760,475 1110,570" fill="none" stroke="#000" stroke-width="17"/>
<polyline points="740,440 1030,512" fill="none" stroke="#000" stroke-width="17"/>
<polyline points="1300,335 1482,300" fill="none" stroke="#000" stroke-width="17"/>
</g>
<polyline points="1471.4,180 1467.2,185.2 1465.3,190.2 1464.9,203.4" fill="none" stroke="#000" stroke-width="1.45"/>
<polyline points="1484.9,181 1484.8,192.2 1488.6,198.8 1489.5,205.8 1490,222.2 1491.9,240 1498.2,270.5" fill="none" stroke="#000" stroke-width="1.45"/>
<polyline points="1487,208.1 1487.8,221.3 1490.5,240 1494.8,271.5" fill="none" stroke="#000" stroke-width="1.45"/>
<polyline points="1469.4,197.3 1484.4,193.6" fill="none" stroke="#000" stroke-width="1.45"/>
<polyline points="1471.3,205.3 1487.7,201.6" fill="none" stroke="#000" stroke-width="1.45"/>
<polyline points="1467.5,193.6 1471.3,205.3 1475.9,213.8 1482.5,223.6 1483.9,226.9 1486.3,240 1492.4,273" fill="none" stroke="#000" stroke-width="1.45"/>
<polyline points="1445,199.7 1454.4,202 1471.3,206.3" fill="none" stroke="#000" stroke-width="1.45"/>
<polyline points="1445,203.9 1452,204.8 1454.4,207.2 1454.8,226.4 1458.1,227.3 1461.9,240 1468.3,263.3 1472.2,267.2" fill="none" stroke="#000" stroke-width="1.45"/>
<polyline points="1455.3,211.9 1458.1,214.7 1470.3,217.5 1475,214.7 1466.6,205.8" fill="none" stroke="#000" stroke-width="1.45"/>
<polyline points="1456.3,215.6 1459.1,222.2 1478.8,223.6 1482.5,224.1" fill="none" stroke="#000" stroke-width="1.45"/>
<polyline points="1458.6,216.1 1459.1,227.3 1462.3,240 1471.2,262.4" fill="none" stroke="#000" stroke-width="1.45"/>
<polyline points="1474.5,224.1 1476.9,240 1480,273.1" fill="none" stroke="#000" stroke-width="1.45"/>
<polyline points="1472.2,267.2 1466.4,264.8 1453.7,269.2 1451.7,272.1 1481,279 1503.5,271.1 1498.2,270.5" fill="none" stroke="#000" stroke-width="1.45"/>
<polyline points="1453.7,270.5 1481,276.3 1490.8,272.8" fill="none" stroke="#000" stroke-width="1.45"/>
<polyline points="1451.7,272.1 1451.7,308.2 1481,315.1 1503.5,308.2 1503.5,271.1" fill="none" stroke="#000" stroke-width="1.45"/>
<polyline points="1480.6,278.8 1480.6,315" fill="none" stroke="#000" stroke-width="1.45"/>
<polyline points="1483.4,278.2 1483.4,314.2" fill="none" stroke="#000" stroke-width="1.45"/>
<line x1="1452" y1="308.6" x2="1481" y2="315.5" stroke="#000" stroke-width="2.2"/>
<line x1="1481" y1="315.5" x2="1503.3" y2="308.6" stroke="#000" stroke-width="2.2"/>
<polyline points="402.5,653.05 402.5,560.2 516.5,455.43 516.5,548.78 405.5,653.55 402.5,653.05" fill="none" stroke="#000" stroke-width="1"/>
<polyline points="405.5,653.55 405.5,560.64 516.5,458.43" fill="none" stroke="#000" stroke-width="1"/>
<polyline points="402.5,753.85 402.5,661 516.5,556.23 516.5,649.58 405.5,754.35 402.5,753.85" fill="none" stroke="#000" stroke-width="1"/>
<polyline points="405.5,754.35 405.5,661.44 516.5,559.23" fill="none" stroke="#000" stroke-width="1"/>
<polyline points="402.5,853.85 402.5,761 516.5,656.23 516.5,749.58 405.5,854.35 402.5,853.85" fill="none" stroke="#000" stroke-width="1"/>
<polyline points="405.5,854.35 405.5,761.44 516.5,659.23" fill="none" stroke="#000" stroke-width="1"/>
<polyline points="518.5,543.55 518.5,450.7 633.5,345.01 633.5,438.37 521.5,544.05 518.5,543.55" fill="none" stroke="#000" stroke-width="1"/>
<polyline points="521.5,544.05 521.5,451.14 633.5,348.01" fill="none" stroke="#000" stroke-width="1"/>
<polyline points="518.5,644.25 518.5,551.4 633.5,445.71 633.5,539.06 521.5,644.75 518.5,644.25" fill="none" stroke="#000" stroke-width="1"/>
<polyline points="521.5,644.75 521.5,551.84 633.5,448.71" fill="none" stroke="#000" stroke-width="1"/>
<polyline points="518.5,744.15 518.5,651.3 633.5,545.62 633.5,638.97 521.5,744.65 518.5,744.15" fill="none" stroke="#000" stroke-width="1"/>
<polyline points="521.5,744.65 521.5,651.74 633.5,548.62" fill="none" stroke="#000" stroke-width="1"/>
<polyline points="635.5,434.45 635.5,341.6 749.5,236.83 749.5,330.18 638.5,434.95 635.5,434.45" fill="none" stroke="#000" stroke-width="1"/>
<polyline points="638.5,434.95 638.5,342.04 749.5,239.83" fill="none" stroke="#000" stroke-width="1"/>
<polyline points="635.5,534.85 635.5,442 749.5,337.23 749.5,430.58 638.5,535.35 635.5,534.85" fill="none" stroke="#000" stroke-width="1"/>
<polyline points="638.5,535.35 638.5,442.44 749.5,340.23" fill="none" stroke="#000" stroke-width="1"/>
<polyline points="635.5,635.15 635.5,542.3 749.5,437.53 749.5,530.88 638.5,635.65 635.5,635.15" fill="none" stroke="#000" stroke-width="1"/>
<polyline points="638.5,635.65 638.5,542.74 749.5,440.53" fill="none" stroke="#000" stroke-width="1"/>
<ellipse cx="0" cy="0" rx="2.3" ry="4.6" transform="translate(650.6,469.2) rotate(12)" fill="none" stroke="#000" stroke-width="1.3"/>
<line x1="650.3" y1="466.7" x2="651" y2="471.7" stroke="#000" stroke-width="0.8"/>
<ellipse cx="0" cy="0" rx="2.3" ry="4.6" transform="translate(650.6,494.6) rotate(12)" fill="none" stroke="#000" stroke-width="1.3"/>
<line x1="650.3" y1="492.1" x2="651" y2="497.1" stroke="#000" stroke-width="0.8"/>
<ellipse cx="0" cy="0" rx="2.3" ry="4.6" transform="translate(498,610.6) rotate(12)" fill="none" stroke="#000" stroke-width="1.3"/>
<line x1="497.7" y1="608.1" x2="498.4" y2="613.1" stroke="#000" stroke-width="0.8"/>
<ellipse cx="0" cy="0" rx="2.3" ry="4.6" transform="translate(498,636.2) rotate(12)" fill="none" stroke="#000" stroke-width="1.3"/>
<line x1="497.7" y1="633.7" x2="498.4" y2="638.7" stroke="#000" stroke-width="0.8"/>
<line x1="692.57" y1="484.32" x2="699.26" y2="478" stroke="#fff" stroke-width="2" stroke-linecap="butt"/>
<line x1="697.29" y1="485.51" x2="704.07" y2="479.29" stroke="#fff" stroke-width="2" stroke-linecap="butt"/>
<line x1="699.91" y1="486.2" x2="706.68" y2="479.96" stroke="#fff" stroke-width="2" stroke-linecap="butt"/>
<line x1="671.55" y1="504.16" x2="678.24" y2="497.84" stroke="#fff" stroke-width="2" stroke-linecap="butt"/>
<line x1="675.85" y1="505.22" x2="682.62" y2="498.99" stroke="#fff" stroke-width="2" stroke-linecap="butt"/>
<line x1="678.51" y1="505.9" x2="685.28" y2="499.67" stroke="#fff" stroke-width="2" stroke-linecap="butt"/>
<line x1="541.11" y1="626.25" x2="547.8" y2="619.93" stroke="#fff" stroke-width="2" stroke-linecap="butt"/>
<line x1="544.74" y1="627.18" x2="551.52" y2="620.96" stroke="#fff" stroke-width="2" stroke-linecap="butt"/>
<line x1="547.4" y1="627.89" x2="554.17" y2="621.66" stroke="#fff" stroke-width="2" stroke-linecap="butt"/>
<line x1="520.13" y1="646.04" x2="526.82" y2="639.73" stroke="#fff" stroke-width="2" stroke-linecap="butt"/>
<line x1="523.36" y1="646.83" x2="530.13" y2="640.61" stroke="#fff" stroke-width="2" stroke-linecap="butt"/>
<line x1="526.07" y1="647.53" x2="532.84" y2="641.3" stroke="#fff" stroke-width="2" stroke-linecap="butt"/>
<line x1="603.4" y1="667.37" x2="610.09" y2="661.05" stroke="#fff" stroke-width="2" stroke-linecap="butt"/>
<line x1="653" y1="470" x2="769.5" y2="500.3" stroke="#000" stroke-width="1"/>
<line x1="653" y1="495.4" x2="768" y2="524.8" stroke="#000" stroke-width="1"/>
<line x1="500.5" y1="611.4" x2="617.8" y2="642.6" stroke="#000" stroke-width="1"/>
<line x1="500.5" y1="637" x2="615.3" y2="666.4" stroke="#000" stroke-width="1"/>
<polygon points="781.8,500.3 808.1,507.3 808.1,514.8 781.8,507.9 780.6,506.3 780.6,501.8" fill="#fff" stroke="#000" stroke-width="1.3"/>
<path d="M784.4,501.63 Q786,505.23 784.4,508.73" fill="none" stroke="#000" stroke-width="1.5"/>
<path d="M788.25,502.67 Q789.85,506.27 788.25,509.77" fill="none" stroke="#000" stroke-width="1.5"/>
<path d="M792.1,503.71 Q793.7,507.31 792.1,510.81" fill="none" stroke="#000" stroke-width="1.5"/>
<path d="M795.95,504.74 Q797.55,508.34 795.95,511.84" fill="none" stroke="#000" stroke-width="1.5"/>
<path d="M799.8,505.78 Q801.4,509.38 799.8,512.88" fill="none" stroke="#000" stroke-width="1.5"/>
<path d="M803.65,506.82 Q805.25,510.42 803.65,513.92" fill="none" stroke="#000" stroke-width="1.5"/>
<polygon points="808.1,507.3 827.6,512.6 827.6,520.1 808.1,514.8" fill="#fff" stroke="#000" stroke-width="1.2"/>
<line x1="809.1" y1="507.6" x2="808.8" y2="514.9" stroke="#000" stroke-width="1"/>
<polygon points="827.1,511.8 835.6,514.1 835.6,523.9 827.1,521.6" fill="#000" stroke="#000" stroke-width="1"/>
<ellipse cx="0" cy="0" rx="2.3" ry="5.3" transform="translate(837.6,518.9) rotate(8)" fill="#fff" stroke="#000" stroke-width="1.4"/>
<line x1="837.3" y1="515.8" x2="837.3" y2="521.8" stroke="#000" stroke-width="1"/>
<polygon points="781.8,525.3 808.1,532.3 808.1,539.8 781.8,532.9 780.6,531.3 780.6,526.8" fill="#fff" stroke="#000" stroke-width="1.3"/>
<path d="M784.4,526.63 Q786,530.23 784.4,533.73" fill="none" stroke="#000" stroke-width="1.5"/>
<path d="M788.25,527.67 Q789.85,531.27 788.25,534.77" fill="none" stroke="#000" stroke-width="1.5"/>
<path d="M792.1,528.7 Q793.7,532.3 792.1,535.8" fill="none" stroke="#000" stroke-width="1.5"/>
<path d="M795.95,529.74 Q797.55,533.34 795.95,536.84" fill="none" stroke="#000" stroke-width="1.5"/>
<path d="M799.8,530.78 Q801.4,534.38 799.8,537.88" fill="none" stroke="#000" stroke-width="1.5"/>
<path d="M803.65,531.82 Q805.25,535.42 803.65,538.92" fill="none" stroke="#000" stroke-width="1.5"/>
<polygon points="808.1,532.3 827.6,537.6 827.6,545.1 808.1,539.8" fill="#fff" stroke="#000" stroke-width="1.2"/>
<line x1="809.1" y1="532.6" x2="808.8" y2="539.9" stroke="#000" stroke-width="1"/>
<polygon points="827.1,536.8 835.6,539.1 835.6,548.9 827.1,546.6" fill="#000" stroke="#000" stroke-width="1"/>
<ellipse cx="0" cy="0" rx="2.3" ry="5.3" transform="translate(837.6,543.9) rotate(8)" fill="#fff" stroke="#000" stroke-width="1.4"/>
<line x1="837.3" y1="540.8" x2="837.3" y2="546.8" stroke="#000" stroke-width="1"/>
<polygon points="629.6,642.6 655.9,649.6 655.9,657.1 629.6,650.2 628.4,648.6 628.4,644.1" fill="#fff" stroke="#000" stroke-width="1.3"/>
<path d="M632.2,643.93 Q633.8,647.53 632.2,651.03" fill="none" stroke="#000" stroke-width="1.5"/>
<path d="M636.05,644.97 Q637.65,648.57 636.05,652.07" fill="none" stroke="#000" stroke-width="1.5"/>
<path d="M639.9,646 Q641.5,649.61 639.9,653.11" fill="none" stroke="#000" stroke-width="1.5"/>
<path d="M643.75,647.04 Q645.35,650.64 643.75,654.14" fill="none" stroke="#000" stroke-width="1.5"/>
<path d="M647.6,648.08 Q649.2,651.68 647.6,655.18" fill="none" stroke="#000" stroke-width="1.5"/>
<path d="M651.45,649.12 Q653.05,652.72 651.45,656.22" fill="none" stroke="#000" stroke-width="1.5"/>
<polygon points="655.9,649.6 675.4,654.9 675.4,662.4 655.9,657.1" fill="#fff" stroke="#000" stroke-width="1.2"/>
<line x1="656.9" y1="649.9" x2="656.6" y2="657.2" stroke="#000" stroke-width="1"/>
<polygon points="674.9,654.1 683.4,656.4 683.4,666.2 674.9,663.9" fill="#000" stroke="#000" stroke-width="1"/>
<ellipse cx="0" cy="0" rx="2.3" ry="5.3" transform="translate(685.4,661.2) rotate(8)" fill="#fff" stroke="#000" stroke-width="1.4"/>
<line x1="685.1" y1="658.1" x2="685.1" y2="664.1" stroke="#000" stroke-width="1"/>
<polygon points="629.6,668 655.9,675 655.9,682.5 629.6,675.6 628.4,674 628.4,669.5" fill="#fff" stroke="#000" stroke-width="1.3"/>
<path d="M632.2,669.33 Q633.8,672.93 632.2,676.43" fill="none" stroke="#000" stroke-width="1.5"/>
<path d="M636.05,670.37 Q637.65,673.97 636.05,677.47" fill="none" stroke="#000" stroke-width="1.5"/>
<path d="M639.9,671.4 Q641.5,675 639.9,678.5" fill="none" stroke="#000" stroke-width="1.5"/>
<path d="M643.75,672.44 Q645.35,676.04 643.75,679.54" fill="none" stroke="#000" stroke-width="1.5"/>
<path d="M647.6,673.48 Q649.2,677.08 647.6,680.58" fill="none" stroke="#000" stroke-width="1.5"/>
<path d="M651.45,674.52 Q653.05,678.12 651.45,681.62" fill="none" stroke="#000" stroke-width="1.5"/>
<polygon points="655.9,675 675.4,680.3 675.4,687.8 655.9,682.5" fill="#fff" stroke="#000" stroke-width="1.2"/>
<line x1="656.9" y1="675.3" x2="656.6" y2="682.6" stroke="#000" stroke-width="1"/>
<polygon points="674.9,679.5 683.4,681.8 683.4,691.6 674.9,689.3" fill="#000" stroke="#000" stroke-width="1"/>
<ellipse cx="0" cy="0" rx="2.3" ry="5.3" transform="translate(685.4,686.6) rotate(8)" fill="#fff" stroke="#000" stroke-width="1.4"/>
<line x1="685.1" y1="683.5" x2="685.1" y2="689.5" stroke="#000" stroke-width="1"/>
<line x1="846.9" y1="520.3" x2="873.1" y2="527" stroke="#000" stroke-width="1"/>
<line x1="895" y1="532.2" x2="917" y2="538" stroke="#000" stroke-width="1"/>
<line x1="845.6" y1="544.6" x2="871.8" y2="551.5" stroke="#000" stroke-width="1"/>
<line x1="880.8" y1="554.2" x2="895.5" y2="558.6" stroke="#000" stroke-width="1"/>
<line x1="694.9" y1="662.4" x2="725.3" y2="670" stroke="#000" stroke-width="1"/>
<line x1="743.6" y1="675.2" x2="767.5" y2="681.3" stroke="#000" stroke-width="1"/>
<line x1="693.3" y1="687.8" x2="725.3" y2="695.4" stroke="#000" stroke-width="1"/>
<line x1="742.2" y1="700" x2="767.5" y2="706.4" stroke="#000" stroke-width="1"/>
<circle cx="897.5" cy="429.4" r="23.8" fill="none" stroke="#000" stroke-width="1.05"/>
<polygon points="900.6,414.2 900.6,446.2 896.8,446.2 896.8,421.1 889.1,425.1 888.6,425.1 888.6,421.8 897.4,414.2" fill="#000" stroke="#000" stroke-width="0.3"/>
<line x1="889.4" y1="453.1" x2="814.4" y2="502.5" stroke="#000" stroke-width="1"/>
<circle cx="579.2" cy="756.5" r="24.1" fill="none" stroke="#000" stroke-width="1.05"/>
<polygon points="583,741.5 583,772.7 579.2,772.7 579.2,748.4 571.5,752.4 571,752.4 571,749.1 579.8,741.5" fill="#000" stroke="#000" stroke-width="0.3"/>
<line x1="575.1" y1="731.9" x2="648.1" y2="685.1" stroke="#000" stroke-width="1"/>
<line x1="767.5" y1="678.1" x2="937.7" y2="519.7" stroke="#000" stroke-width="1.1"/>
<line x1="797" y1="702" x2="832.1" y2="671.1" stroke="#000" stroke-width="1"/>
<line x1="918.8" y1="589.7" x2="937.7" y2="571.4" stroke="#000" stroke-width="1"/>
<polyline points="962.4,525.3 971.4,516.3 1228,522.2 1251.7,522.2" fill="none" stroke="#000" stroke-width="1"/>
<polyline points="967.3,544.4 977.6,536.6 1220.2,543.5" fill="none" stroke="#000" stroke-width="1"/>
<line x1="1235.9" y1="543.5" x2="1259.6" y2="543.8" stroke="#000" stroke-width="1"/>
<polygon points="937.7,519.7 967.3,526.8 967.3,578.2 937.7,571.4" fill="#fff" stroke="#000" stroke-width="1.2"/>
<line x1="937.7" y1="519.7" x2="937.7" y2="571.4" stroke="#000" stroke-width="1.8"/>
<line x1="967.3" y1="526.8" x2="967.3" y2="578.2" stroke="#000" stroke-width="1.8"/>
<line x1="938.5" y1="569.2" x2="966.5" y2="575.8" stroke="#000" stroke-width="1"/>
<circle cx="952" cy="534.9" r="1.9" fill="#000" stroke="none" stroke-width="0"/>
<circle cx="952" cy="564.1" r="1.9" fill="#000" stroke="none" stroke-width="0"/>
<circle cx="929.2" cy="540.5" r="1.5" fill="#fff" stroke="#000" stroke-width="1"/>
<circle cx="929.2" cy="565.8" r="1.5" fill="#fff" stroke="#000" stroke-width="1"/>
<line x1="930.5" y1="541.8" x2="1003.5" y2="560.2" stroke="#000" stroke-width="1"/>
<line x1="930.5" y1="567" x2="1003.5" y2="585.6" stroke="#000" stroke-width="1"/>
<polygon points="767.5,678.1 797,686 797,737.7 767.5,731.5" fill="#fff" stroke="#000" stroke-width="1.2"/>
<circle cx="782.1" cy="693.6" r="1.4" fill="#fff" stroke="#000" stroke-width="1"/>
<circle cx="782.1" cy="723.1" r="1.8" fill="#000" stroke="none" stroke-width="0"/>
<line x1="797" y1="689.4" x2="851.5" y2="702.6" stroke="#000" stroke-width="1"/>
<line x1="797" y1="714" x2="851.5" y2="727.8" stroke="#000" stroke-width="1"/>
<polygon points="851.8,702.2 858.09,701.88 884.37,708.57 883.31,712.63 857.12,705.56" fill="#fff" stroke="#000" stroke-width="1.1"/>
<polyline points="856.64,703.47 858.67,702.04 859.25,706.12 861.76,702.85 862.35,706.93 864.86,703.66 865.44,707.74 867.95,704.47 868.54,708.55 871.05,705.28 871.63,709.36 874.14,706.09 874.73,710.18 877.24,706.91 877.82,710.99 880.33,707.72 880.92,711.8 883.43,708.53" fill="none" stroke="#000" stroke-width="1"/>
<polygon points="884.22,709.15 903.65,714.24 902.88,717.14 883.46,712.05" fill="#fff" stroke="#000" stroke-width="1"/>
<ellipse cx="0" cy="0" rx="1.8" ry="4.6" transform="translate(904.23,715.95) rotate(14.69)" fill="#000" stroke="#000" stroke-width="0.8"/>
<polygon points="851.8,727.4 858.09,727.11 884.38,733.89 883.3,737.95 857.11,730.78" fill="#fff" stroke="#000" stroke-width="1.1"/>
<polyline points="856.63,728.68 858.67,727.26 859.24,731.34 861.76,728.08 862.33,732.17 864.85,728.9 865.42,732.99 867.94,729.73 868.51,733.81 871.04,730.55 871.61,734.63 874.13,731.37 874.7,735.46 877.22,732.19 877.79,736.28 880.31,733.02 880.88,737.1 883.41,733.84" fill="none" stroke="#000" stroke-width="1"/>
<polygon points="884.23,734.47 903.65,739.64 902.88,742.54 883.45,737.37" fill="#fff" stroke="#000" stroke-width="1"/>
<ellipse cx="0" cy="0" rx="1.8" ry="4.6" transform="translate(904.23,741.34) rotate(14.89)" fill="#000" stroke="#000" stroke-width="0.8"/>
<polygon points="1004.1,560.8 1010.39,560.47 1036.01,566.93 1034.95,570.99 1009.43,564.15" fill="#fff" stroke="#000" stroke-width="1.1"/>
<polyline points="1008.94,562.06 1010.97,560.62 1011.56,564.7 1014.06,561.43 1014.65,565.51 1017.16,562.23 1017.75,566.31 1020.26,563.04 1020.85,567.12 1023.35,563.84 1023.95,567.92 1026.45,564.65 1027.04,568.73 1029.55,565.45 1030.14,569.53 1032.64,566.26 1033.24,570.34 1035.74,567.06" fill="none" stroke="#000" stroke-width="1"/>
<polygon points="1035.86,567.51 1054.84,572.44 1054.09,575.35 1035.1,570.41" fill="#fff" stroke="#000" stroke-width="1"/>
<ellipse cx="0" cy="0" rx="1.8" ry="4.6" transform="translate(1055.43,574.15) rotate(14.58)" fill="#000" stroke="#000" stroke-width="0.8"/>
<polygon points="1004.1,586.2 1010.39,585.87 1036.01,592.33 1034.95,596.39 1009.43,589.55" fill="#fff" stroke="#000" stroke-width="1.1"/>
<polyline points="1008.94,587.46 1010.97,586.02 1011.56,590.1 1014.06,586.83 1014.65,590.91 1017.16,587.63 1017.75,591.71 1020.26,588.44 1020.85,592.52 1023.35,589.24 1023.95,593.32 1026.45,590.05 1027.04,594.13 1029.55,590.85 1030.14,594.93 1032.64,591.66 1033.24,595.74 1035.74,592.46" fill="none" stroke="#000" stroke-width="1"/>
<polygon points="1035.86,592.91 1054.84,597.84 1054.09,600.75 1035.1,595.81" fill="#fff" stroke="#000" stroke-width="1"/>
<ellipse cx="0" cy="0" rx="1.8" ry="4.6" transform="translate(1055.43,599.55) rotate(14.58)" fill="#000" stroke="#000" stroke-width="0.8"/>
<line x1="916.5" y1="718.9" x2="964.3" y2="731.5" stroke="#000" stroke-width="1"/>
<line x1="916.5" y1="744.2" x2="962.9" y2="756.3" stroke="#000" stroke-width="1"/>
<line x1="1066.3" y1="576.2" x2="1105.7" y2="587.6" stroke="#000" stroke-width="1"/>
<line x1="1064.7" y1="600.8" x2="1102.4" y2="611.3" stroke="#000" stroke-width="1"/>
<polygon points="979.1,728.6 1065.5,749.6 1065.5,839 979.1,816.7" fill="none" stroke="#000" stroke-width="1.1"/>
<polyline points="979.1,728.6 992.8,721.5 1058.2,728.9" fill="none" stroke="#000" stroke-width="1.1"/>
<path d="M1058.2,728.9 C1075,693 1100,640 1139.3,589.6" fill="none" stroke="#000" stroke-width="1"/>
<path d="M1065.5,748.2 C1078,712 1100,660 1136.9,592" fill="none" stroke="#000" stroke-width="1"/>
<line x1="994.5" y1="721.6" x2="1138" y2="590.8" stroke="#000" stroke-width="1"/>
<polyline points="1139.3,589.6 1161,555.7 1168.3,552.1 1254.3,573.9 1254.3,663.5 1168.3,725.2" fill="none" stroke="#000" stroke-width="1.1"/>
<path d="M1254.3,574.3 C1252.87,578.02 1248.92,589.35 1245.7,596.6 C1242.48,603.85 1238.55,610.72 1235,617.8 C1231.45,624.88 1227.93,632.02 1224.4,639.1 C1220.87,646.18 1217.78,652.77 1213.8,660.3 C1209.82,667.83 1205.38,676.55 1200.5,684.3 C1195.62,692.05 1189.65,700.08 1184.5,706.8 C1179.35,713.52 1175.12,717.82 1169.6,724.6 C1164.08,731.38 1157.82,739.8 1151.4,747.5 C1144.98,755.2 1137.87,763.35 1131.1,770.8 C1124.33,778.25 1117.57,785.25 1110.8,792.2 C1104.03,799.15 1096.27,806.58 1090.5,812.5 C1084.73,818.42 1080.4,823.28 1076.2,827.7 C1072,832.12 1067.12,837.12 1065.3,839" fill="none" stroke="#000" stroke-width="1.1"/>
<circle cx="994.8" cy="762" r="4.6" fill="none" stroke="#000" stroke-width="1.1"/>
<path d="M993.2,760.5 q2.5,-1 2.5,1.2 q0,2 -2.5,1.8" fill="none" stroke="#000" stroke-width="0.9"/>
<circle cx="994.8" cy="791.5" r="4.6" fill="none" stroke="#000" stroke-width="1.1"/>
<path d="M993.2,790.0 q2.5,-1 2.5,1.2 q0,2 -2.5,1.8" fill="none" stroke="#000" stroke-width="0.9"/>
<polyline points="991.7,764.7 877.1,870.7 858.8,887.6" fill="none" stroke="#000" stroke-width="1"/>
<polyline points="991.7,794.2 871.5,904.4 853.2,921.3" fill="none" stroke="#000" stroke-width="1"/>
<polyline points="782,693.6 719.1,752.6 877.1,870.7" fill="none" stroke="#000" stroke-width="1"/>
<line x1="782" y1="723.1" x2="743.6" y2="758.2" stroke="#000" stroke-width="1"/>
<polyline points="730.4,771.4 720.2,780.7 871.5,904.4" fill="none" stroke="#000" stroke-width="1"/>
<line x1="841.2" y1="903.2" x2="851.8" y2="894.6" stroke="#000" stroke-width="5"/>
<circle cx="840.9" cy="903.8" r="3.9" fill="#000" stroke="none" stroke-width="0"/>
<circle cx="840" cy="903.5" r="0.6" fill="#fff" stroke="none" stroke-width="0"/>
<line x1="837.5" y1="937.2" x2="847.6" y2="928.4" stroke="#000" stroke-width="5"/>
<circle cx="837.2" cy="937.8" r="3.9" fill="#000" stroke="none" stroke-width="0"/>
<circle cx="836.3" cy="937.5" r="0.6" fill="#fff" stroke="none" stroke-width="0"/>
<line x1="827.9" y1="915.7" x2="815.3" y2="928.9" stroke="#000" stroke-width="1"/>
<line x1="822.3" y1="952.2" x2="808.2" y2="964.3" stroke="#000" stroke-width="1"/>
<circle cx="896.8" cy="980.3" r="23.9" fill="none" stroke="#000" stroke-width="1.05"/>
<text x="886" y="995.2" font-size="46.5" text-anchor="start">3</text>
<line x1="916.5" y1="960.7" x2="929.1" y2="862.3" stroke="#000" stroke-width="1"/>
<line x1="1208.4" y1="561.6" x2="1272.7" y2="502.2" stroke="#000" stroke-width="1"/>
<line x1="1232.7" y1="568.1" x2="1285.7" y2="520.1" stroke="#000" stroke-width="1"/>
<ellipse cx="0" cy="0" rx="3" ry="3.6" transform="translate(1284.93,490.09) rotate(-42.43)" fill="#fff" stroke="#000" stroke-width="1.5"/>
<line x1="1274.3" y1="499.8" x2="1283.6" y2="491.3" stroke="#000" stroke-width="6" stroke-linecap="butt"/>
<ellipse cx="0" cy="0" rx="3" ry="3.6" transform="translate(1296.71,508.27) rotate(-43.09)" fill="#fff" stroke="#000" stroke-width="1.5"/>
<line x1="1286.1" y1="518.2" x2="1295.4" y2="509.5" stroke="#000" stroke-width="6" stroke-linecap="butt"/>
<line x1="1298.3" y1="477.6" x2="1316" y2="462.1" stroke="#000" stroke-width="1"/>
<line x1="1310.7" y1="496.6" x2="1331.7" y2="477.2" stroke="#000" stroke-width="1"/>
<circle cx="1369.6" cy="512.3" r="24" fill="none" stroke="#000" stroke-width="1.05"/>
<text x="1358.2" y="528.6" font-size="46.5" text-anchor="start">3</text>
<line x1="1357.3" y1="534" x2="1255" y2="559.6" stroke="#000" stroke-width="1"/>
<g transform="translate(825,580) scale(0.078125)" fill="none" stroke="#000" stroke-width="14">
<path d="M840,215 C860,130 960,60 1030,55 C1150,55 1290,180 1285,330 C1280,440 1150,520 1040,525 L905,590 L880,610 L820,622 L740,580 L720,470 L700,330 L830,235 Z" fill="#fff" stroke="#000" stroke-width="14"/>
<path d="M920,110 C1040,110 1190,220 1190,360 C1190,440 1150,490 1100,510" fill="none" stroke="#000" stroke-width="14"/>
<path d="M860,160 C980,150 1160,260 1160,390 C1160,450 1120,500 1080,515" fill="none" stroke="#000" stroke-width="14"/>
<path d="M840,215 C950,200 1080,330 1080,430 C1080,470 1060,510 1040,525" fill="none" stroke="#000" stroke-width="14"/>
<path d="M690,335 L760,310 L830,335 L885,400 L905,460 L900,590" fill="none" stroke="#000" stroke-width="14"/>
<path d="M540,350 L630,300 L630,385 L890,470 L900,590 L880,610 L740,580 L640,470 L545,460 Z" fill="#fff" stroke="#000" stroke-width="14"/>
<path d="M540,350 L640,400 L640,470" fill="none" stroke="#000" stroke-width="14"/>
<path d="M640,400 L890,470" fill="none" stroke="#000" stroke-width="14"/>
<circle cx="650" cy="430" r="13" fill="#000"/>
<circle cx="692" cy="442" r="13" fill="#000"/>
<circle cx="734" cy="454" r="13" fill="#000"/>
<circle cx="776" cy="466" r="13" fill="#000"/>
<circle cx="818" cy="478" r="13" fill="#000"/>
<circle cx="860" cy="490" r="13" fill="#000"/>
<path d="M880,470 L880,600" fill="none" stroke="#000" stroke-width="22"/>
<path d="M750,500 L740,560" fill="none" stroke="#000" stroke-width="26"/>
<path d="M470,600 L620,500 M560,700 L760,540 M470,640 L700,600 M520,640 L560,700" fill="none" stroke="#000" stroke-width="14"/>
<path d="M420,640 L560,700" fill="none" stroke="#000" stroke-width="30"/>
<path d="M335,585 L370,525 L395,545 L370,605 L335,620 Z" fill="#fff" stroke="#000" stroke-width="14"/>
<path d="M350,560 L460,625" fill="none" stroke="#000" stroke-width="14"/>
<path d="M355,360 L380,380 L345,400 L375,420" fill="none" stroke="#000" stroke-width="12"/>
<path d="M110,770 L160,720 L250,700 L300,700 L400,660 L480,670 L550,740 L575,800 L560,880 L540,930 L520,960 L110,900 Z" fill="#fff" stroke="#000" stroke-width="14"/>
<path d="M110,770 L120,880 M160,730 L170,860 M200,715 L210,840 M250,705 L260,760 M280,760 L300,700" fill="none" stroke="#000" stroke-width="14"/>
<path d="M150,850 C250,760 420,800 520,960" fill="none" stroke="#000" stroke-width="14"/>
<path d="M560,880 L600,850 L660,840 L660,760 L600,750 L575,790" fill="none" stroke="#000" stroke-width="14"/>
<path d="M540,930 L600,870" fill="none" stroke="#000" stroke-width="14"/>
<ellipse cx="295" cy="1040" rx="235" ry="200" fill="#fff" stroke="#000" stroke-width="22"/>
<ellipse cx="300" cy="1020" rx="180" ry="155" fill="none" stroke="#000" stroke-width="14"/>
<ellipse cx="315" cy="995" rx="140" ry="128" fill="none" stroke="#000" stroke-width="14"/>
<path d="M150,860 L300,850 L450,950" fill="none" stroke="#000" stroke-width="24"/>
</g>
</svg>
</body></html>
